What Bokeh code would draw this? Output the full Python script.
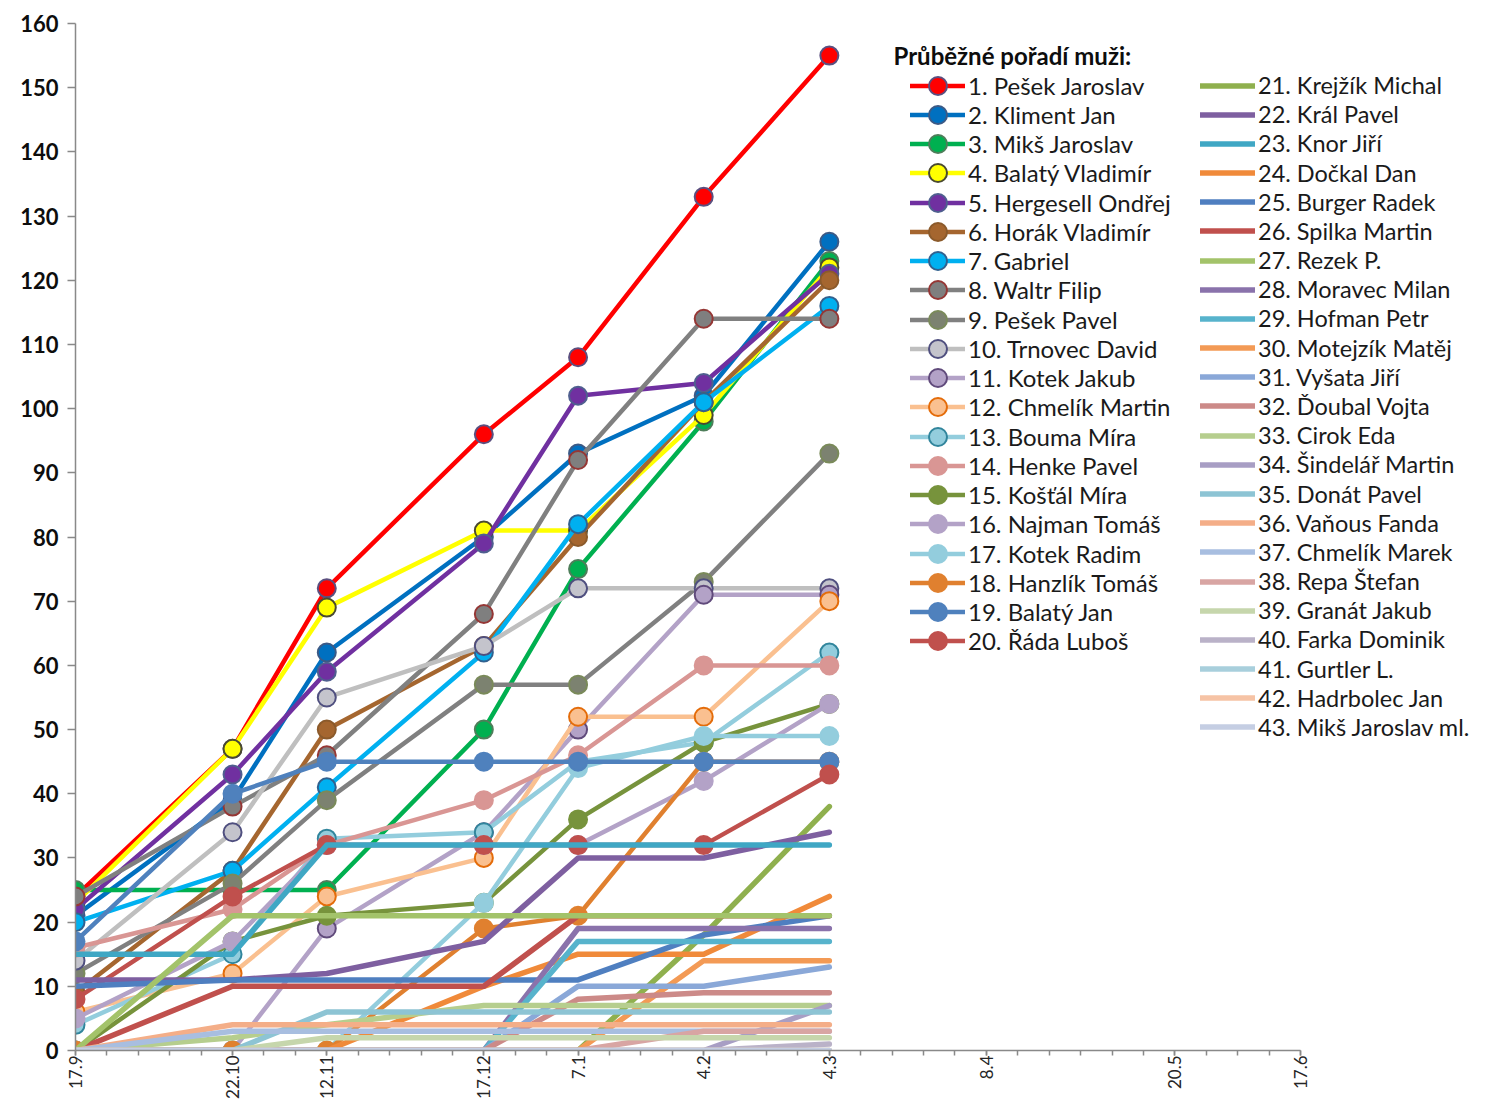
from datetime import date
import numpy as np
from bokeh.plotting import figure
from bokeh.models import FixedTicker, Legend, LegendItem, Label
from bokeh.embed import file_html
from bokeh.resources import INLINE

# ---------------- data ----------------
season_start = "17.9.2016"
race_dates = ["17.9.2016", "22.10.2016", "12.11.2016", "17.12.2016",
              "7.1.2017", "4.2.2017", "4.3.2017"]
axis_dates = race_dates + ["8.4.2017", "20.5.2017", "17.6.2017"]
axis_labels = ["17.9", "22.10", "12.11", "17.12", "7.1", "4.2", "4.3",
               "8.4", "20.5", "17.6"]

legend_title = "Průběžné pořadí muži:"
names = ["1. Pešek Jaroslav", "2. Kliment Jan", "3. Mikš Jaroslav", "4. Balatý Vladimír",
         "5. Hergesell Ondřej", "6. Horák Vladimír", "7. Gabriel", "8. Waltr Filip",
         "9. Pešek Pavel", "10. Trnovec David", "11. Kotek Jakub", "12. Chmelík Martin",
         "13. Bouma Míra", "14. Henke Pavel", "15. Košťál Míra", "16. Najman Tomáš",
         "17. Kotek Radim", "18. Hanzlík Tomáš", "19. Balatý Jan", "20. Řáda Luboš",
         "21. Krejžík Michal", "22. Král Pavel", "23. Knor Jiří", "24. Dočkal Dan",
         "25. Burger Radek", "26. Spilka Martin", "27. Rezek P.", "28. Moravec Milan",
         "29. Hofman Petr", "30. Motejzík Matěj", "31. Vyšata Jiří", "32. Ďoubal Vojta",
         "33. Cirok Eda", "34. Šindelář Martin", "35. Donát Pavel", "36. Vaňous Fanda",
         "37. Chmelík Marek", "38. Repa Štefan", "39. Granát Jakub", "40. Farka Dominik",
         "41. Gurtler L.", "42. Hadrbolec Jan", "43. Mikš Jaroslav ml."]

p01 = [24, 47, 72, 96, 108, 133, 155]
p02 = [21, 39, 62, 80, 93, 102, 126]
p03 = [25, 25, 25, 50, 75, 98, 123]
p04 = [23, 47, 69, 81, 81, 99, 122]
p05 = [22, 43, 59, 79, 102, 104, 121]
p06 = [9, 28, 50, 63, 80, 101, 120]
p07 = [20, 28, 41, 62, 82, 101, 116]
p08 = [24, 38, 46, 68, 92, 114, 114]
p09 = [12, 26, 39, 57, 57, 73, 93]
p10 = [14, 34, 55, 63, 72, 72, 72]
p11 = [0, 0, 19, 34, 50, 71, 71]
p12 = [6, 12, 24, 30, 52, 52, 70]
p13 = [4, 15, 33, 34, 45, 48, 62]
p14 = [16, 22, 32, 39, 46, 60, 60]
p15 = [0, 17, 21, 23, 36, 48, 54]
p16 = [5, 17, 32, 32, 32, 42, 54]
p17 = [0, 0, 0, 23, 44, 49, 49]
p18 = [0, 0, 0, 19, 21, 45, 45]
p19 = [17, 40, 45, 45, 45, 45, 45]
p20 = [8, 24, 32, 32, 32, 32, 43]
p21 = [0, 0, 0, 0, 0, 18, 38]
p22 = [11, 11, 12, 17, 30, 30, 34]
p23 = [15, 15, 32, 32, 32, 32, 32]
p24 = [0, 0, 0, 10, 15, 15, 24]
p25 = [10, 11, 11, 11, 11, 18, 21]
p26 = [0, 10, 10, 10, 21, 21, 21]
p27 = [0, 21, 21, 21, 21, 21, 21]
p28 = [0, 0, 0, 0, 19, 19, 19]
p29 = [0, 0, 0, 0, 17, 17, 17]
p30 = [0, 0, 0, 0, 0, 14, 14]
p31 = [0, 0, 0, 0, 10, 10, 13]
p32 = [0, 0, 0, 0, 8, 9, 9]
p33 = [0, 2, 4, 7, 7, 7, 7]
p34 = [0, 0, 0, 0, 0, 0, 7]
p35 = [0, 0, 6, 6, 6, 6, 6]
p36 = [0, 4, 4, 4, 4, 4, 4]
p37 = [0, 3, 3, 3, 3, 3, 3]
p38 = [0, 0, 0, 0, 0, 3, 3]
p39 = [0, 0, 2, 2, 2, 2, 2]
p40 = [0, 0, 0, 0, 0, 0, 1]
p41 = [0, 0, 0, 0, 0, 0, 0]
p42 = [0, 0, 0, 0, 0, 0, 0]
p43 = [0, 0, 0, 0, 0, 0, 0]

series = [p01, p02, p03, p04, p05, p06, p07, p08, p09, p10, p11, p12, p13, p14, p15,
          p16, p17, p18, p19, p20, p21, p22, p23, p24, p25, p26, p27, p28, p29, p30,
          p31, p32, p33, p34, p35, p36, p37, p38, p39, p40, p41, p42, p43]

# ---------------- styles ----------------
line_colors = ["#FF0000", "#0070C0", "#00B050", "#FFFF00", "#7030A0", "#A5662F", "#00B0F0",
               "#808080", "#808080", "#BFBFBF", "#B3A2C7", "#FAC090", "#93CDDD", "#D99694",
               "#77933C", "#B3A2C7", "#93CDDD", "#E0802F", "#4F81BD", "#C0504D",
               "#8FB04E", "#7E5FA0", "#3FA7C4", "#F08A3A", "#4F7FC0", "#C0504D", "#A3C36A",
               "#8A72AB", "#57B3CC", "#F39A55", "#8AA8D8", "#CC8A88", "#B6CE8E", "#A89EC4",
               "#8DC4D4", "#F4AE88", "#A8BEE0", "#D8A5A3", "#C6D6AC", "#BAB2C8", "#A8CFDC",
               "#F6C3A5", "#C5CEE3"]
marker_fill = ["#FF0000", "#0070C0", "#00B050", "#FFFF00", "#7030A0", "#A5662F", "#00B0F0",
               "#7F7F7F", "#7C8270", "#C4C4CC", "#B3A2C7", "#FAC090", "#93CDDD", "#D99694",
               "#77933C", "#B3A2C7", "#93CDDD", "#E0802F", "#4F81BD", "#C0504D"]
marker_edge = ["#5B4F7F", "#3C5A86", "#4E7E5A", "#4A4A30", "#4F5F8F", "#8B5A2B", "#31618F",
               "#953735", "#7A8A5A", "#4F4F7F", "#604A7B", "#E46C0A", "#31859C", "#D99694",
               "#77933C", "#B3A2C7", "#93CDDD", "#E0802F", "#4F81BD", "#C0504D"]


def to_date(s):
    d, m, y = (int(v) for v in s.split("."))
    return date(y, m, d)


def day(s):
    return (to_date(s) - to_date(season_start)).days


xs = [day(d) for d in race_dates]
major_days = [day(d) for d in axis_dates]
axis_end = major_days[-1]
minor_days = list(range(0, axis_end + 1, 7))

FONT = "Lato"
W, H = 1475, 1101
BL, BT, BB = 75, 23, 51            # frame spans x 75..1475, y 23..1050
frame_w = W - BL
frame_h = H - BT - BB
axis_px = 1225                     # pixel length of the drawn axis (17.9 .. 17.6)
x_end = axis_end * frame_w / axis_px

p = figure(width=W, height=H, x_range=(0, x_end), y_range=(0, 160),
           output_backend="svg", toolbar_location=None,
           min_border_left=BL, min_border_right=0, min_border_top=BT, min_border_bottom=BB)
p.outline_line_color = None
p.grid.visible = False
p.background_fill_color = "white"

# x axis
p.xaxis.bounds = (0, axis_end)
p.xaxis.ticker = FixedTicker(ticks=major_days, minor_ticks=minor_days)
p.xaxis.major_label_overrides = {d: l for d, l in zip(major_days, axis_labels)}
p.xaxis.major_label_orientation = np.pi / 2
p.xaxis.major_label_text_font = FONT
p.xaxis.major_label_text_font_size = "17px"
p.xaxis.major_label_text_color = "#262626"
p.xaxis.major_label_standoff = 0
p.xaxis.major_tick_in = 0
p.xaxis.major_tick_out = 5
p.xaxis.minor_tick_in = 0
p.xaxis.minor_tick_out = 5
for ax in (p.xaxis, p.yaxis):
    ax.axis_line_color = "#898989"
    ax.axis_line_width = 1.5
    ax.major_tick_line_color = "#898989"
    ax.major_tick_line_width = 1.5
p.xaxis.minor_tick_line_color = "#898989"
p.xaxis.minor_tick_line_width = 1.5

# y axis
p.yaxis.ticker = FixedTicker(ticks=list(range(0, 161, 10)))
p.yaxis.minor_tick_line_color = None
p.yaxis.major_tick_in = 0
p.yaxis.major_tick_out = 8
p.yaxis.major_label_standoff = 9
p.yaxis.major_label_text_font = FONT
p.yaxis.major_label_text_font_style = "bold"
p.yaxis.major_label_text_font_size = "22px"
p.yaxis.major_label_text_color = "#0d0d0d"

renderers = []
for i, vals in enumerate(series):
    if i < 20:
        r_line = p.line(xs, vals, line_color=line_colors[i], line_width=4.5,
                        line_join="round", line_cap="round")
        r_mark = p.scatter(xs, vals, size=18, fill_color=marker_fill[i],
                           line_color=marker_edge[i], line_width=2)
        renderers.append([r_line, r_mark])
    else:
        r_line = p.line(xs, vals, line_color=line_colors[i], line_width=5.5,
                        line_join="round", line_cap="round")
        renderers.append([r_line])

# legend: one small legend per entry so that rows can be placed tightly
GLYPH_H = 45
rows_col1 = 20
for i, (name, rends) in enumerate(zip(names, renderers)):
    if i < rows_col1:
        row_center = 85 + i * 29.26
        lx, gw, fs = 910 - BL, 55, "24px"
    else:
        row_center = 85 + (i - rows_col1) * 29.18
        lx, gw, fs = 1200 - BL, 55, "23.5px"
    c_from_top = row_center - BT
    ly = frame_h - c_from_top - GLYPH_H / 2
    lg = Legend(items=[LegendItem(label=name, renderers=rends)], location=(lx, ly),
                orientation="vertical", glyph_width=gw, glyph_height=GLYPH_H,
                label_height=20, spacing=0, padding=0, margin=0, label_standoff=3,
                label_text_font=FONT, label_text_font_size=fs,
                label_text_color="#1a1a1a", label_text_baseline="middle",
                background_fill_alpha=0, border_line_color=None)
    p.add_layout(lg)

title = Label(x=893 - BL, y=frame_h - (55 - BT), x_units="screen", y_units="screen",
              text=legend_title, text_font=FONT, text_font_style="bold",
              text_font_size="24px", text_baseline="middle", text_align="left",
              text_color="#0d0d0d")
p.add_layout(title)

open("out.html", "w").write(file_html(p, INLINE))
